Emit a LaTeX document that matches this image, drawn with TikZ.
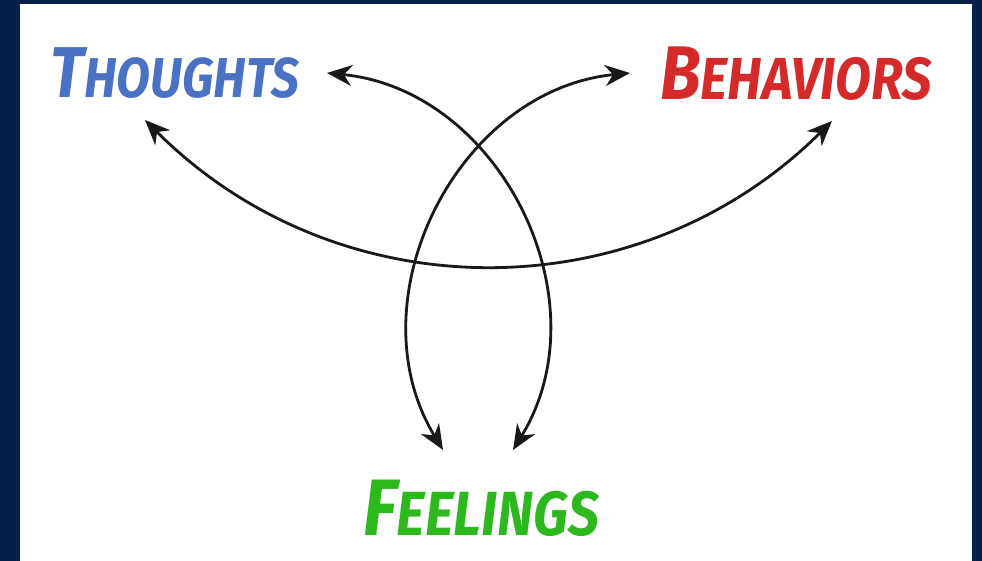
\documentclass[tikz,border=0pt]{standalone}
\usepackage{fontspec}
\setmainfont{Fira Sans}
\newfontfamily\handfont{Fira Sans}[FakeStretch=0.88]
\usetikzlibrary{arrows.meta,calc}

\definecolor{frame}{RGB}{6,32,74}
\definecolor{thoughtblue}{RGB}{74,114,196}
\definecolor{behavred}{RGB}{212,42,42}
\definecolor{feelgreen}{RGB}{45,184,30}

% first letter tall, the rest as small capitals
\newcommand{\capword}[3]{{\fontsize{#3}{#3}\selectfont #1}{\fontsize{0.78\dimexpr#3\relax}{#3}\selectfont #2}}

\begin{document}
\begin{tikzpicture}[
  x=1pt, y=-1pt,
  word/.style={anchor=base, inner sep=0pt, font=\handfont\bfseries\itshape, text=#1},
  word/.default={black},
  arrow/.style={{Stealth[length=25pt, width=21pt, inset=8pt]}-{Stealth[length=25pt, width=21pt, inset=8pt]},
                line width=2.8pt, color=black!90},
]
  \useasboundingbox (0,0) rectangle (982,561);
  \fill[frame] (0,0) rectangle (982,561);
  \fill[white] (20,4) rectangle (972,561);

  \node[word=thoughtblue] (thoughts) at (175,98)  {\capword{T}{HOUGHTS}{72pt}};
  \node[word=behavred]    (behav)    at (796,100) {\capword{B}{EHAVIORS}{76pt}};
  \node[word=feelgreen]   (feel)     at (481,535) {\capword{F}{EELINGS}{80pt}};

  % arrow ends
  \coordinate (t-low)  at (145,120);
  \coordinate (t-high) at (327,73);
  \coordinate (b-low)  at (832,121);
  \coordinate (b-high) at (630,73);
  \coordinate (f-left)  at (443,450);
  \coordinate (f-right) at (513,450);

  % Arrows
  \draw[arrow] (t-low) .. controls (338,313) and (639,313) .. (b-low);
  \draw[arrow] (t-high) .. controls (500,90) and (605,300) .. (f-right);
  \draw[arrow] (b-high) .. controls (457,90) and (352,300) .. (f-left);
\end{tikzpicture}
\end{document}
